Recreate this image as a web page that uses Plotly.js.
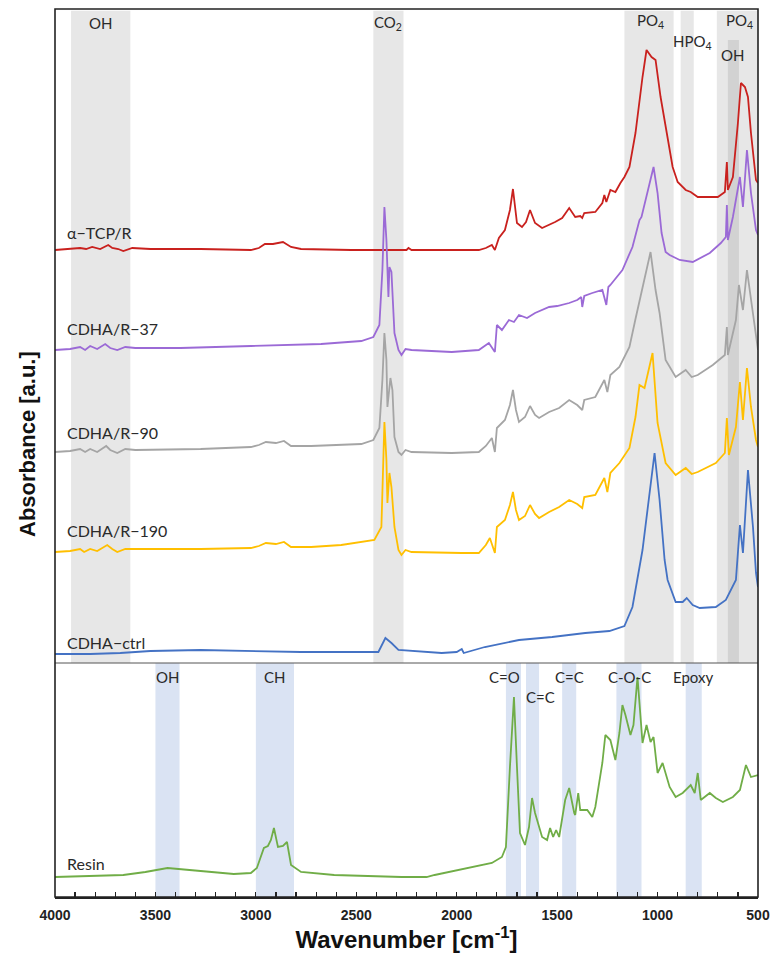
<!DOCTYPE html>
<html><head><meta charset="utf-8">
<script src="https://cdn.plot.ly/plotly-3.0.1.min.js"></script>
<style>html,body{margin:0;padding:0;background:#fff}#chart{width:770px;height:958px}</style>
</head><body><div id="chart"></div>
<script>
// ---- data (wavenumber in cm-1, absorbance in arbitrary stacked units) ----
const seriesNames = ["α−TCP/R", "CDHA/R−37", "CDHA/R−90", "CDHA/R−190", "CDHA−ctrl", "Resin"];

const tcpWn = [4000,3940,3875,3845,3815,3775,3735,3715,3685,3660,3615,3525,3275,3025,2985,2955,2915,2865,2825,2775,2525,2250,2240,2225,2025,1890,1855,1825,1810,1790,1760,1735,1720,1700,1675,1655,1635,1610,1575,1540,1510,1475,1440,1410,1385,1375,1365,1310,1275,1265,1255,1235,1210,1185,1165,1140,1110,1075,1055,1030,1010,985,950,925,900,860,835,800,750,700,665,655,650,625,600,585,565,550,535,510,500];
const tcpAbs = [413,414,415,414,416,414,418,415,414,412,415,414,414,413,415,419,419,421,416,414,413,413,415,413,413,413,415,418,413,425,433,453,474,440,436,441,453,440,435,438,441,445,455,446,447,445,450,451,460,468,461,473,471,480,486,496,530,586,613,606,603,566,523,496,481,473,471,466,466,466,471,501,473,486,540,580,576,566,530,483,480];

const r37Wn = [4000,3925,3875,3850,3825,3790,3750,3725,3690,3650,3600,3375,3025,2675,2475,2415,2385,2370,2360,2350,2340,2335,2325,2310,2290,2275,2255,2225,2025,1890,1840,1810,1800,1775,1740,1715,1690,1650,1610,1575,1540,1500,1440,1400,1380,1375,1365,1325,1275,1255,1245,1235,1205,1175,1125,1090,1080,1050,1020,1000,980,960,940,890,825,740,685,660,655,650,625,590,575,555,535,510,500];
const r37Abs = [313,314,316,313,317,314,319,315,313,316,315,315,317,319,322,326,338,393,456,423,366,396,391,330,313,308,314,313,311,313,320,311,338,333,343,341,348,345,350,353,356,357,360,363,366,356,367,370,373,358,376,378,385,393,416,443,446,470,496,470,430,411,408,403,401,410,420,426,458,423,446,486,456,513,470,433,428];

const r90Wn = [4000,3925,3875,3850,3825,3790,3745,3725,3690,3650,3600,3275,3025,2985,2950,2900,2860,2825,2725,2475,2415,2385,2370,2360,2350,2345,2330,2320,2310,2290,2275,2255,2225,2025,1890,1855,1825,1810,1800,1760,1735,1720,1705,1690,1660,1635,1610,1590,1540,1490,1440,1400,1375,1365,1310,1265,1250,1235,1190,1140,1110,1075,1035,1010,990,960,910,860,830,800,725,665,655,650,610,595,575,555,535,510,500];
const r90Abs = [211,212,214,211,214,211,217,213,210,214,213,214,216,218,221,220,222,217,217,219,223,235,283,330,303,256,285,273,226,211,208,213,211,210,211,217,225,211,235,243,258,273,253,241,246,257,248,245,251,255,263,258,253,263,266,283,271,288,296,316,344,376,411,373,350,303,286,293,286,288,298,308,336,308,343,378,353,393,363,330,313];

const r190Wn = [4000,3925,3875,3855,3825,3790,3740,3715,3690,3650,3600,3275,3025,2985,2950,2900,2860,2825,2725,2575,2410,2375,2360,2350,2345,2335,2325,2310,2290,2275,2255,2225,1975,1890,1855,1835,1810,1800,1760,1735,1720,1705,1690,1660,1635,1610,1590,1540,1490,1440,1400,1375,1365,1310,1265,1250,1235,1190,1140,1110,1090,1065,1025,1000,960,910,860,830,800,710,665,655,645,610,590,575,555,535,510,500];
const r190Abs = [111,112,114,111,114,112,118,114,111,114,114,114,115,117,120,119,121,116,116,118,123,136,241,203,160,190,176,136,113,108,113,111,110,110,118,125,110,136,143,158,171,153,143,147,158,149,145,151,156,163,159,155,166,168,185,171,190,200,215,246,278,275,310,240,200,188,195,189,191,200,210,245,208,236,281,243,295,256,223,216];

const ctrlWn = [4000,3825,3675,3525,3275,3025,2775,2525,2390,2355,2325,2290,2175,2075,2000,1975,1965,1860,1690,1525,1360,1240,1165,1125,1075,1040,1015,990,965,950,910,875,855,825,790,710,660,610,590,575,550,525,510,500];
const ctrlAbs = [9,9,10,12,13,12,11,11,11,25,20,13,11,10,11,14,10,16,23,26,30,32,37,56,113,170,210,163,103,83,61,61,65,58,55,56,63,83,138,110,193,136,90,76];

const resinWn = [4000,3660,3550,3440,3275,3110,3025,2995,2960,2940,2925,2910,2890,2865,2845,2825,2775,2610,2275,2150,2110,1940,1825,1775,1755,1735,1715,1700,1685,1660,1640,1625,1610,1575,1550,1535,1520,1505,1490,1460,1440,1415,1410,1395,1385,1350,1325,1310,1275,1260,1235,1210,1190,1175,1160,1135,1120,1100,1075,1055,1035,1020,1000,975,940,910,875,835,815,800,785,740,710,675,625,590,560,535,500];
const resinAbs = [20,22,25,29,26,23,24,29,49,51,57,69,50,51,55,32,25,22,20,20,22,29,34,40,50,130,200,130,64,52,70,99,84,60,57,69,60,67,60,97,109,84,82,104,87,87,80,90,134,162,157,137,164,192,182,162,172,220,154,172,155,160,124,134,110,100,104,112,104,124,97,104,99,95,100,107,132,120,122];

// assignment bands (cm-1) and their labels
const topBandStart = [3920, 2415, 1165, 885, 705];
const topBandEnd   = [3625, 2265, 920, 820, 500];
const topDarkBand  = [650, 595];
const topBandLabels = ["OH", "CO<sub>2</sub>", "PO<sub>4</sub>", "HPO<sub>4</sub>", "PO<sub>4</sub>", "OH"];
const topLabelWn    = [3772, 2340, 1035, 825, 590, 625];

const botBandStart = [3500, 3000, 1755, 1655, 1475, 1205, 860];
const botBandEnd   = [3380, 2810, 1680, 1590, 1405, 1080, 780];
const botBandLabels = ["OH", "CH", "C=O", "C=C", "C=C", "C-O-C", "Epoxy"];
const botLabelWn    = [3440, 2905, 1760, 1585, 1440, 1140, 825];

const xTickVals = [4000, 3500, 3000, 2500, 2000, 1500, 1000, 500];

// ---- drawing ----
const colors = ["#c9211e", "#9b6ad6", "#a5a5a5", "#ffbf00", "#4472c4", "#70ad47"];
const topSeries = [[tcpWn, tcpAbs], [r37Wn, r37Abs], [r90Wn, r90Abs], [r190Wn, r190Abs], [ctrlWn, ctrlAbs]];
const traces = topSeries.map((s, i) => ({
  x: s[0], y: s[1], type: "scatter", mode: "lines", name: seriesNames[i],
  line: {color: colors[i], width: 1.8}, xaxis: "x", yaxis: "y", hoverinfo: "skip"
}));
traces.push({x: resinWn, y: resinAbs, type: "scatter", mode: "lines", name: seriesNames[5],
  line: {color: colors[5], width: 1.8}, xaxis: "x", yaxis: "y2", hoverinfo: "skip"});

const split = 234 / 888;
const shapes = [];
topBandStart.forEach((s, i) => shapes.push({type: "rect", xref: "x", yref: "paper", x0: s, x1: topBandEnd[i],
  y0: split, y1: 0.998, fillcolor: "#e7e7e7", line: {width: 0}, layer: "below"}));
shapes.push({type: "rect", xref: "x", yref: "paper", x0: topDarkBand[0], x1: topDarkBand[1],
  y0: split, y1: 0.965, fillcolor: "#d2d2d2", line: {width: 0}, layer: "below"});
botBandStart.forEach((s, i) => shapes.push({type: "rect", xref: "x", yref: "paper", x0: s, x1: botBandEnd[i],
  y0: 0, y1: split, fillcolor: "#dae3f3", line: {width: 0}, layer: "below"}));
shapes.push({type: "line", xref: "paper", yref: "paper", x0: 0, x1: 1, y0: split, y1: split,
  line: {color: "#555", width: 1}});
shapes.push({type: "rect", xref: "paper", yref: "paper", x0: 0, x1: 1, y0: 0, y1: 1,
  line: {color: "#222", width: 1.6}});

const lblFamily = "Lato, 'Open Sans', sans-serif";
const lblFont = {family: lblFamily, size: 15, color: "#2a2a2a"};
const annotations = [];
const topLabelY = [0.984, 0.984, 0.986, 0.963, 0.986, 0.948];
topBandLabels.forEach((t, i) => annotations.push({xref: "x", yref: "paper", x: topLabelWn[i], y: topLabelY[i],
  text: t, showarrow: false, font: lblFont, xanchor: "center", yanchor: "middle"}));
const botLabelY = [0.2477, 0.2477, 0.2477, 0.2252, 0.2477, 0.2477, 0.2477];
botBandLabels.forEach((t, i) => annotations.push({xref: "x", yref: "paper", x: botLabelWn[i], y: botLabelY[i],
  text: t, showarrow: false, font: lblFont, xanchor: "center", yanchor: "middle"}));
const seriesLabelY = [431, 335, 231, 133, 21];
seriesLabelY.forEach((yv, i) => annotations.push({xref: "x", yref: "y", x: 3950, y: yv, text: seriesNames[i],
  showarrow: false, xanchor: "left", yanchor: "middle", font: {family: lblFamily, size: 16, color: "#2a2a2a"}}));
annotations.push({xref: "x", yref: "y2", x: 3950, y: 34, text: seriesNames[5], showarrow: false,
  xanchor: "left", yanchor: "middle", font: {family: lblFamily, size: 16, color: "#2a2a2a"}});
annotations.push({xref: "paper", yref: "paper", x: -0.04, y: 0.51, text: "Absorbance [a.u.]", textangle: -90,
  showarrow: false, xanchor: "center", yanchor: "middle",
  font: {family: "'Liberation Sans', Arial, sans-serif", size: 22, weight: "bold", color: "#111"}});

const layout = {
  width: 770, height: 958, margin: {l: 55, r: 12, t: 9, b: 61},
  paper_bgcolor: "#fff", plot_bgcolor: "#fff", showlegend: false,
  xaxis: {range: [4000, 500], anchor: "y2", tickvals: xTickVals, ticktext: xTickVals.map(String),
    ticks: "inside", ticklen: 5, tickwidth: 1.2, tickcolor: "#222", ticklabelstandoff: 5,
    minor: {dtick: 100, ticks: "inside", ticklen: 5, tickwidth: 1.2, tickcolor: "#222", showgrid: false},
    showgrid: false, zeroline: false, showline: true, linecolor: "#222", linewidth: 1.6,
    tickfont: {family: "'Liberation Sans', Arial, sans-serif", size: 14, weight: "bold", color: "#222"},
    title: {text: "Wavenumber [cm<sup>-1</sup>]", standoff: 6,
      font: {family: "'Liberation Sans', Arial, sans-serif", size: 24, weight: "bold", color: "#111"}}},
  yaxis: {domain: [split, 1], range: [0, 654], showticklabels: false, ticks: "", showgrid: false,
    zeroline: false, showline: false},
  yaxis2: {domain: [0, split], range: [0, 234], showticklabels: false, ticks: "", showgrid: false,
    zeroline: false, showline: false},
  shapes: shapes, annotations: annotations
};
Plotly.newPlot("chart", traces, layout, {staticPlot: true});
</script></body></html>
